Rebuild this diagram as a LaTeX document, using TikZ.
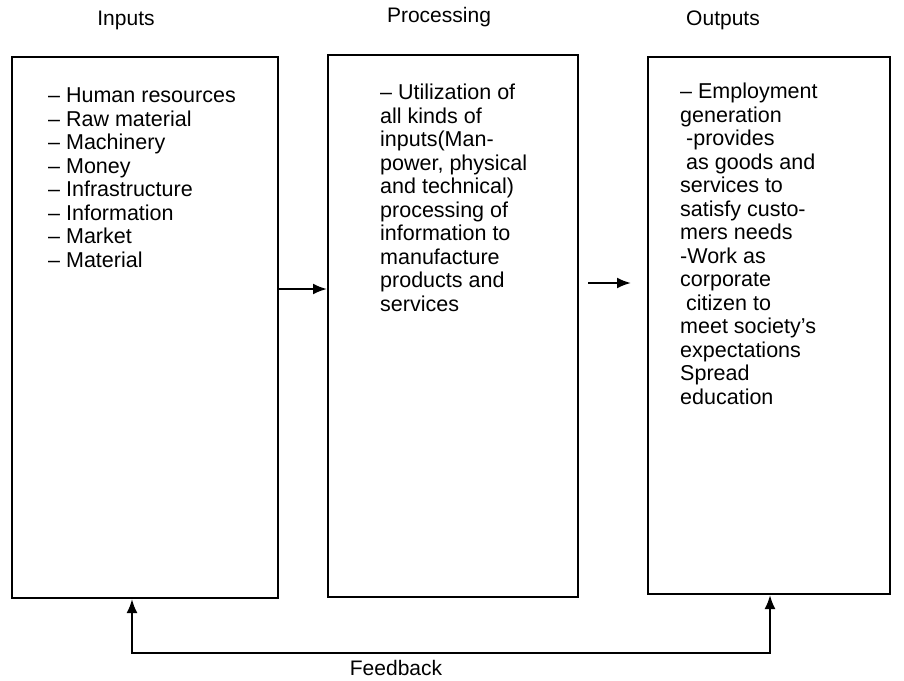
\documentclass[tikz,border=0pt]{standalone}
\usepackage{fontspec}
\setmainfont{Liberation Sans}
\usetikzlibrary{arrows.meta, positioning}

\begin{document}
\begin{tikzpicture}[
x=1pt, y=-1pt,
panel/.style={draw,
rectangle,
line width=2pt,
inner sep=0pt},
listtext/.style={align=left,
inner sep=0pt,
font=\fontsize{21.5pt}{23.5pt}\selectfont},
heading/.style={font=\fontsize{21pt}{25pt}\selectfont},
arrow/.style={-{Latex[length=14pt, width=11pt]}, line width=2.2pt}
]

\useasboundingbox[fill=white] (0,0) rectangle (904,680);

\node[panel, minimum width=266pt, minimum height=541pt] (inbox) at (145,327.5) {};
\node[panel, minimum width=250pt, minimum height=542pt] (procbox) at (453,326) {};
\node[panel, minimum width=242pt, minimum height=537pt] (outbox) at (769,325.5) {};

\node[heading] (intitle) at (126,20) {Inputs};
\node[heading] (proctitle) at (439,17) {Processing};
\node[heading] (outtitle) at (723,20) {Outputs};

\node[listtext, below right=32pt and 37pt of inbox.north west] (inlist) {%
-- Human resources\\
-- Raw material\\
-- Machinery\\
-- Money\\
-- Infrastructure\\
-- Information\\
-- Market\\
-- Material};
\node[listtext, below right=30pt and 53pt of procbox.north west] (proclist) {%
-- Utilization of\\
all kinds of\\
inputs(Man-\\
power, physical\\
and technical)\\
processing of\\
information to\\
manufacture\\
products and\\
services};
\node[listtext, below right=27pt and 33pt of outbox.north west] (outlist) {%
-- Employment\\
generation\\
\ -provides\\
\ as goods and\\
services to\\
satisfy custo-\\
mers needs\\
-Work as\\
corporate\\
\ citizen to\\
meet society's\\
expectations\\
Spread\\
education};

\node[heading] (fbtext) at (396,668) {Feedback};

\draw[arrow] ([yshift=38.5pt]inbox.east) -- ([yshift=37pt]procbox.west);
\draw[arrow, shorten <=9pt, shorten >=16pt] ([yshift=43pt]procbox.east) -- ([yshift=42.5pt]outbox.west);
\draw[{Latex[length=14pt, width=11pt]}-{Latex[length=14pt, width=11pt]}, line width=2.2pt]
([xshift=-13pt]inbox.south) -- ++(0,54) -| ([xshift=1pt]outbox.south);

\end{tikzpicture}
\end{document}
